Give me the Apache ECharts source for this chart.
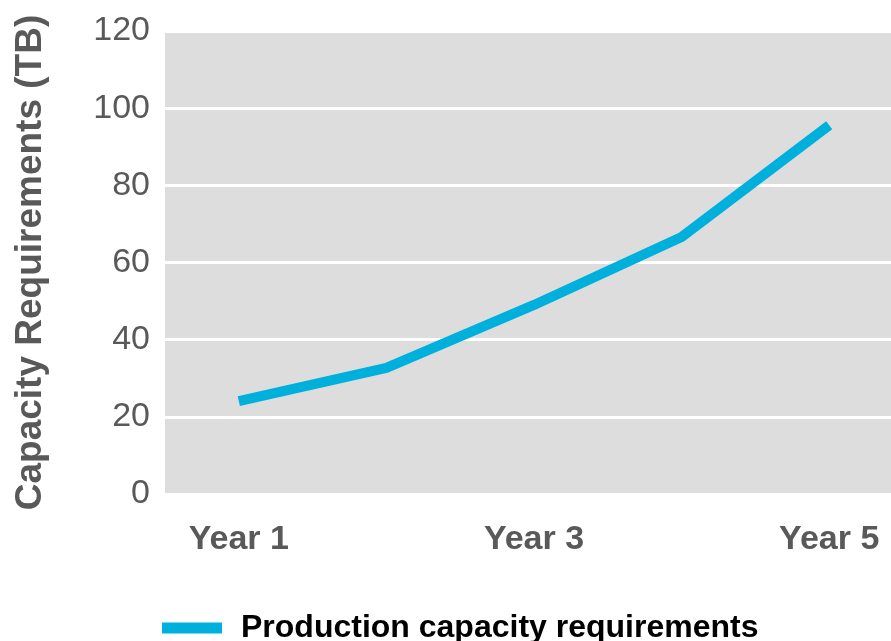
<!DOCTYPE html>
<html>
<head>
<meta charset="utf-8">
<script src="https://cdn.jsdelivr.net/npm/echarts@6/dist/echarts.min.js"></script>
<style>
html,body{margin:0;padding:0;background:#fff;}
#chart{width:891px;height:641px;}
</style>
</head>
<body>
<div id="chart"></div>
<script>
var categories = ['Year 1', 'Year 2', 'Year 3', 'Year 4', 'Year 5'];
var capacityValues = [24.1, 32.7, 49.0, 66.6, 95.6];
var seriesName = 'Production capacity requirements';
var yAxisTitle = 'Capacity Requirements (TB)';

var chart = echarts.init(document.getElementById('chart'), null, {renderer: 'canvas'});
chart.setOption({
  animation: false,
  backgroundColor: '#ffffff',
  grid: {
    left: 165, width: 738, top: 31, bottom: 147,
    outerBoundsMode: 'none',
    containLabel: false,
    show: true, backgroundColor: '#dddddd', borderWidth: 0
  },
  legend: {
    data: [{name: seriesName, icon: 'rect'}],
    left: 157, top: 607,
    itemWidth: 60, itemHeight: 11,
    itemGap: 10,
    textStyle: {
      color: '#000000', fontFamily: 'Liberation Sans, Arial, sans-serif',
      fontWeight: 'bold', fontSize: 32, padding: [0, 0, 0, 14]
    }
  },
  xAxis: {
    type: 'category',
    data: categories,
    boundaryGap: true,
    axisLine: {show: false},
    axisTick: {show: false},
    splitLine: {show: false},
    axisLabel: {
      interval: 1,
      color: '#595959', fontFamily: 'Liberation Sans, Arial, sans-serif',
      fontWeight: 'bold', fontSize: 34, margin: 29
    }
  },
  yAxis: {
    type: 'value',
    min: 0, max: 120, interval: 20,
    name: yAxisTitle,
    nameLocation: 'middle',
    nameGap: 116,
    nameTextStyle: {
      color: '#595959', fontFamily: 'Liberation Sans, Arial, sans-serif',
      fontWeight: 'bold', fontSize: 37
    },
    axisLine: {show: false},
    axisTick: {show: false},
    splitLine: {show: true, lineStyle: {color: '#ffffff', width: 3}},
    axisLabel: {
      color: '#595959', fontFamily: 'Liberation Sans, Arial, sans-serif',
      fontSize: 34, margin: 15, padding: [0, 0, 16, 0]
    }
  },
  series: [{
    name: seriesName,
    type: 'line',
    data: capacityValues,
    symbol: 'none',
    lineStyle: {color: '#00b0dc', width: 10},
    itemStyle: {color: '#00b0dc'}
  }]
});
</script>
</body>
</html>
